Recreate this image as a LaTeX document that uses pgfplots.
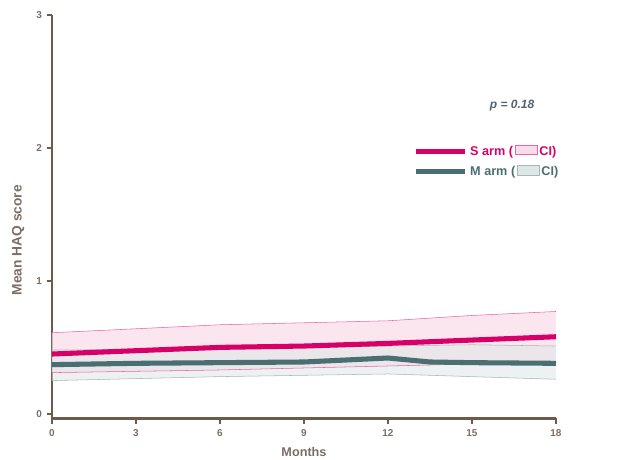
\documentclass[border=0pt]{standalone}
\usepackage{pgfplots}
\pgfplotsset{compat=1.18}
\usepackage{pgfplotstable}
\usepgfplotslibrary{fillbetween}
\usepackage{fontspec}
\setmainfont{Liberation Sans}
\definecolor{axisbrown}{RGB}{110,90,75}
\definecolor{ticklab}{RGB}{125,110,100}
\definecolor{spink}{RGB}{215,0,105}
\definecolor{mteal}{RGB}{75,110,115}
\definecolor{pfill}{RGB}{250,220,232}
\definecolor{mfill}{RGB}{222,230,230}
\definecolor{ptext}{RGB}{80,100,110}
\pgfplotstableread{
x  mean  lo    hi
0  0.45  0.31  0.61
3  0.475 0.32  0.64
6  0.50  0.33  0.67
9  0.51  0.345 0.685
12 0.53  0.36  0.70
15 0.555 0.375 0.74
18 0.58  0.39  0.77
}\sarm
\pgfplotstableread{
x    mean  lo    hi
0    0.37  0.25  0.48
3    0.38  0.265 0.485
6    0.385 0.28  0.49
9    0.39  0.29  0.50
12   0.42  0.30  0.51
13.5 0.39  0.29  0.515
15   0.385 0.28  0.52
18   0.38  0.26  0.51
}\marm
\begin{document}
\begin{tikzpicture}[x=0.75pt,y=0.75pt]
\begin{axis}[
  scale only axis,
  width=378pt, height=302.6pt,
  at={(0,0)}, anchor=south west,
  xmin=0, xmax=18, ymin=-0.035, ymax=3,
  axis lines=left,
  axis line style={-, draw=axisbrown, line width=2pt},
  xtick={0,3,...,18}, ytick={0,1,2,3},
  tick align=outside,
  major tick length=4pt,
  tick style={draw=axisbrown, line width=1.2pt},
  /pgf/number format/assume math mode=true,
  ticklabel style={font=\fontsize{7.5}{9}\selectfont\bfseries, text=ticklab},
  xticklabel style={yshift=-1pt},
  xlabel={Months}, ylabel={Mean HAQ score},
  xlabel style={at={(axis description cs:0.5,-0.082)}, anchor=center, font=\fontsize{9.5}{11}\selectfont\bfseries, text=ticklab},
  ylabel style={at={(axis description cs:-0.067,0.442)}, anchor=center, font=\fontsize{10.3}{12}\selectfont\bfseries, text=ticklab},
  clip=false,
  legend style={at={(rel axis cs:0.716,0.685)}, anchor=north west, draw=none, fill=none, inner sep=0pt,
    font=\fontsize{9.5}{11}\selectfont\bfseries, row sep=2pt, cells={anchor=west}},
  legend cell align=left,
  legend image code/.code={\draw[#1] (0pt,0pt) -- (37pt,0pt);},
]
\addplot[name path=shi, draw=spink!60, line width=0.4pt, forget plot] table[x=x,y=hi]{\sarm};
\addplot[name path=slo, draw=spink!60, line width=0.4pt, forget plot] table[x=x,y=lo]{\sarm};
\addplot[fill=pfill, fill opacity=0.7, draw=none, forget plot] fill between[of=shi and slo];
\addplot[name path=mhi, draw=mteal!50, line width=0.4pt, forget plot] table[x=x,y=hi]{\marm};
\addplot[name path=mlo, draw=mteal!50, line width=0.4pt, forget plot] table[x=x,y=lo]{\marm};
\addplot[fill=mfill, fill opacity=0.55, draw=none, forget plot] fill between[of=mhi and mlo];
\addplot[spink, line width=3.8pt] table[x=x,y=mean]{\sarm};
\addlegendentry{\textcolor{spink}{S arm (\,\tikz[baseline=-0.5pt]\draw[spink!60,fill=pfill,line width=0.5pt] (0,0) rectangle (16pt,7pt);\,CI)}}
\addplot[mteal, line width=3.8pt] table[x=x,y=mean]{\marm};
\addlegendentry{\textcolor{mteal}{M arm (\,\tikz[baseline=-0.5pt]\draw[mteal!50,fill=mfill,line width=0.5pt] (0,0) rectangle (16pt,7pt);\,CI)}}
\node[font=\fontsize{9}{11}\selectfont\bfseries\itshape, text=ptext] at (axis cs:16.43,2.32) {p = 0.18};
\end{axis}
\pgfresetboundingbox
\path (-52,-41.5) rectangle (585,418.5);
\end{tikzpicture}
\end{document}
